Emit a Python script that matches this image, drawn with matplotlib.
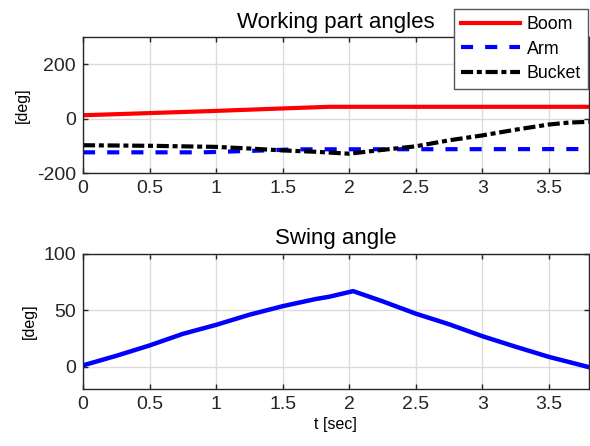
import matplotlib.pyplot as plt

plt.rcParams['font.family'] = ['Liberation Sans', 'DejaVu Sans']
plt.rcParams['axes.unicode_minus'] = False

# working part angles [deg]
t_boom = [0, 0.5, 1.0, 1.5, 1.85, 3.8]
boom = [12, 20, 28, 37, 43, 43]

t_arm = [0, 0.9, 1.1, 1.3, 1.6, 3.8]
arm = [-124, -124, -121, -118, -113, -112]

t_bucket = [0, 0.5, 1.0, 1.25, 1.5, 1.75, 2.0, 2.25, 2.5, 2.75, 3.0, 3.25, 3.5, 3.65, 3.8]
bucket = [-98, -100, -104, -110, -117, -122, -129, -115, -102, -80, -62, -41, -22, -15, -12]

# swing angle [deg]
t_swing = [0, 0.25, 0.5, 0.75, 1.0, 1.25, 1.5, 1.75, 1.85, 2.03, 2.25, 2.5, 2.75, 3.0, 3.25, 3.5, 3.8]
swing = [1, 9.5, 18.7, 29, 37, 46, 53.6, 60, 62, 67, 58, 47, 37.6, 27, 17.6, 8.6, -0.5]

x_ticks = [0, 0.5, 1, 1.5, 2, 2.5, 3, 3.5]
x_ticklabels = ['0', '0.5', '1', '1.5', '2', '2.5', '3', '3.5']

fig = plt.figure(figsize=(5.9, 4.46), dpi=100)
ax1 = fig.add_axes([0.1407, 0.612, 0.857, 0.3056])
ax2 = fig.add_axes([0.1407, 0.1278, 0.857, 0.3027])

ax1.plot(t_boom, boom, color='#ff0000', lw=3, label='Boom')
ax1.plot(t_arm, arm, color='#0000ff', lw=3, dashes=(2.9, 2.9), label='Arm')
ax1.plot(t_bucket, bucket, color='black', lw=3, dashes=(2.9, 0.9, 1.2, 0.9), label='Bucket')
ax1.set_ylim(-200, 300)
ax1.set_yticks([-200, 0, 200])
ax1.set_title('Working part angles', fontsize=16, pad=6)
ax1.set_ylabel('[deg]', fontsize=11.5, labelpad=5)

ax2.plot(t_swing, swing, color='#0000ff', lw=3.2)
ax2.set_ylim(-20, 100)
ax2.set_yticks([0, 50, 100])
ax2.set_title('Swing angle', fontsize=16, pad=7)
ax2.set_ylabel('[deg]', fontsize=11.5, labelpad=5)
ax2.set_xlabel('t [sec]', fontsize=11.5, labelpad=3)

for ax in [ax1, ax2]:
    ax.set_xlim(0, 3.8)
    ax.set_xticks(x_ticks)
    ax.set_xticklabels(x_ticklabels)
    ax.grid(True, color='#dcdcdc', lw=1)
    ax.set_axisbelow(True)
    ax.tick_params(direction='in', length=3.5, width=1, labelsize=14,
                   top=True, right=True, colors='#262626', pad=5)
    for s in ax.spines.values():
        s.set_color('#262626')
        s.set_linewidth(1)

leg = ax1.legend(loc='upper right', bbox_to_anchor=(588 / 590, 1 - 9 / 446),
                 bbox_transform=fig.transFigure, borderaxespad=0, fontsize=12.8,
                 fancybox=False, framealpha=1, edgecolor='#555555',
                 handlelength=3.3, handletextpad=0.4, labelspacing=0.42,
                 borderpad=0.4)
leg.get_frame().set_linewidth(1)

plt.savefig('out.png', dpi=100)
